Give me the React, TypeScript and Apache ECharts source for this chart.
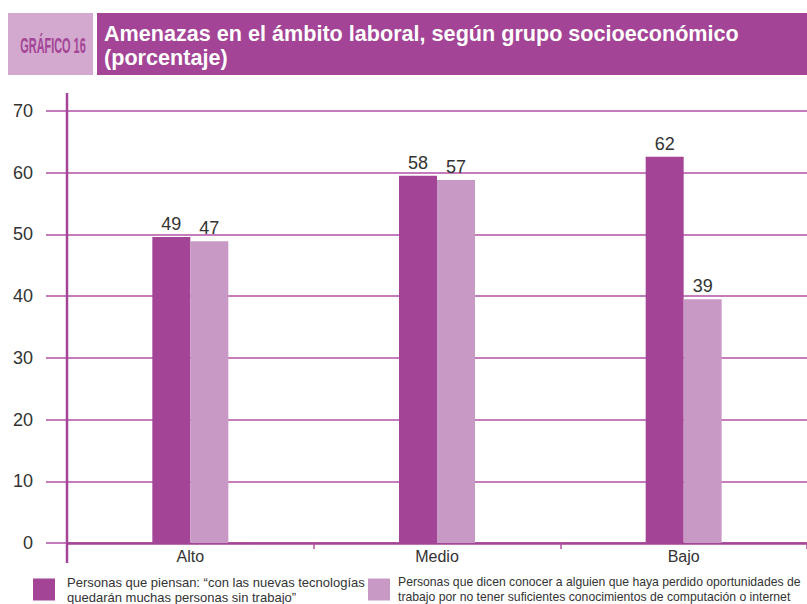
import React, { useEffect, useRef } from "react";
import * as echarts from "echarts";

const categories = ["Alto", "Medio", "Bajo"];
// bar heights
const seriesTecnologias = [49.6, 59.5, 62.6];
const seriesConocidos = [48.9, 58.8, 39.5];
// printed labels
const labelsTecnologias = ["49", "58", "62"];
const labelsConocidos = ["47", "57", "39"];
const yTicks = [0, 10, 20, 30, 40, 50, 60, 70];

const nameA = "Personas que piensan: “con las nuevas tecnologías\nquedarán muchas personas sin trabajo”";
const nameB = "Personas que dicen conocer a alguien que haya perdido oportunidades de\ntrabajo por no tener suficientes conocimientos de computación o internet";

const DARK = "#a34496";
const LIGHT = "#c999c5";
const GRID = "#b24fa6";
const FONT = "'Liberation Sans', Arial, Helvetica, sans-serif";

export default function App() {
  const ref = useRef<HTMLDivElement>(null);
  useEffect(() => {
    if (!ref.current) return;
    const chart = echarts.init(ref.current, null, { renderer: "svg" });
    const labelStyle = {
      show: true,
      position: "top" as const,
      distance: 4,
      fontSize: 18,
      color: "#333",
      fontFamily: FONT,
    };
    chart.setOption({
      animation: false,
      backgroundColor: "#ffffff",
      textStyle: { fontFamily: FONT },
      grid: { left: 67, right: 0, top: 111, bottom: 61, containLabel: false },
      xAxis: {
        type: "category",
        data: categories,
        axisLine: { show: true, lineStyle: { color: DARK, width: 2.5 } },
        axisTick: { show: true, length: 6, lineStyle: { color: GRID, width: 1.5 } },
        axisLabel: { fontSize: 16, color: "#333", margin: 5, fontFamily: FONT },
        splitLine: { show: false },
      },
      yAxis: {
        type: "value",
        min: yTicks[0],
        max: yTicks[yTicks.length - 1],
        interval: 10,
        axisLine: { show: false },
        axisTick: { show: true, length: 21, lineStyle: { color: GRID, width: 1.5 } },
        axisLabel: { fontSize: 18, color: "#333", margin: 34, fontFamily: FONT },
        splitLine: { show: true, lineStyle: { color: GRID, width: 1.5 } },
      },
      legend: [
        {
          data: [{ name: nameA, icon: "rect" }],
          left: 33,
          top: 573,
          itemWidth: 22,
          itemHeight: 22,
          selectedMode: false,
          padding: 0,
          textStyle: { fontSize: 13, color: "#333", lineHeight: 15, padding: [3, 0, 0, 7], fontFamily: FONT },
        },
        {
          data: [{ name: nameB, icon: "rect" }],
          left: 368,
          top: 573,
          itemWidth: 22,
          itemHeight: 22,
          selectedMode: false,
          padding: 0,
          textStyle: { fontSize: 12.2, color: "#333", lineHeight: 15, padding: [3, 0, 0, 3], fontFamily: FONT },
        },
      ],
      series: [
        {
          name: nameA,
          type: "bar",
          data: seriesTecnologias,
          barWidth: 38,
          barGap: "0%",
          itemStyle: { color: DARK },
          label: { ...labelStyle, formatter: (p: any) => labelsTecnologias[p.dataIndex] },
        },
        {
          name: nameB,
          type: "bar",
          data: seriesConocidos,
          barWidth: 38,
          barGap: "0%",
          itemStyle: { color: LIGHT },
          label: { ...labelStyle, formatter: (p: any) => labelsConocidos[p.dataIndex] },
        },
      ],
      graphic: [
        { type: "rect", shape: { x: 8, y: 13, width: 85, height: 62 }, style: { fill: "#d4a9cf" } },
        { type: "rect", shape: { x: 97, y: 13, width: 710, height: 62 }, style: { fill: DARK } },
        {
          type: "text",
          x: 53,
          y: 45,
          scaleX: 0.52,
          scaleY: 1.05,
          style: {
            text: "GRÁFICO 16",
            fill: DARK,
            font: `bold 21px ${FONT}`,
            textAlign: "center",
            textVerticalAlign: "middle",
          },
        },
        {
          type: "text",
          x: 104,
          y: 33,
          style: {
            text: "Amenazas en el ámbito laboral, según grupo socioeconómico",
            fill: "#ffffff",
            font: `bold 21.6px ${FONT}`,
            textAlign: "left",
            textVerticalAlign: "middle",
          },
        },
        {
          type: "text",
          x: 104,
          y: 57,
          style: {
            text: "(porcentaje)",
            fill: "#ffffff",
            font: `bold 21.6px ${FONT}`,
            textAlign: "left",
            textVerticalAlign: "middle",
          },
        },
        {
          type: "line",
          shape: { x1: 67, y1: 93, x2: 67, y2: 563 },
          style: { stroke: DARK, lineWidth: 2.5 },
          z: 10,
        },
      ],
    });
    return () => chart.dispose();
  }, []);
  return (
    <div
      ref={ref}
      style={{ position: "fixed", left: 0, top: 0, width: 807, height: 604, background: "#fff" }}
    />
  );
}
